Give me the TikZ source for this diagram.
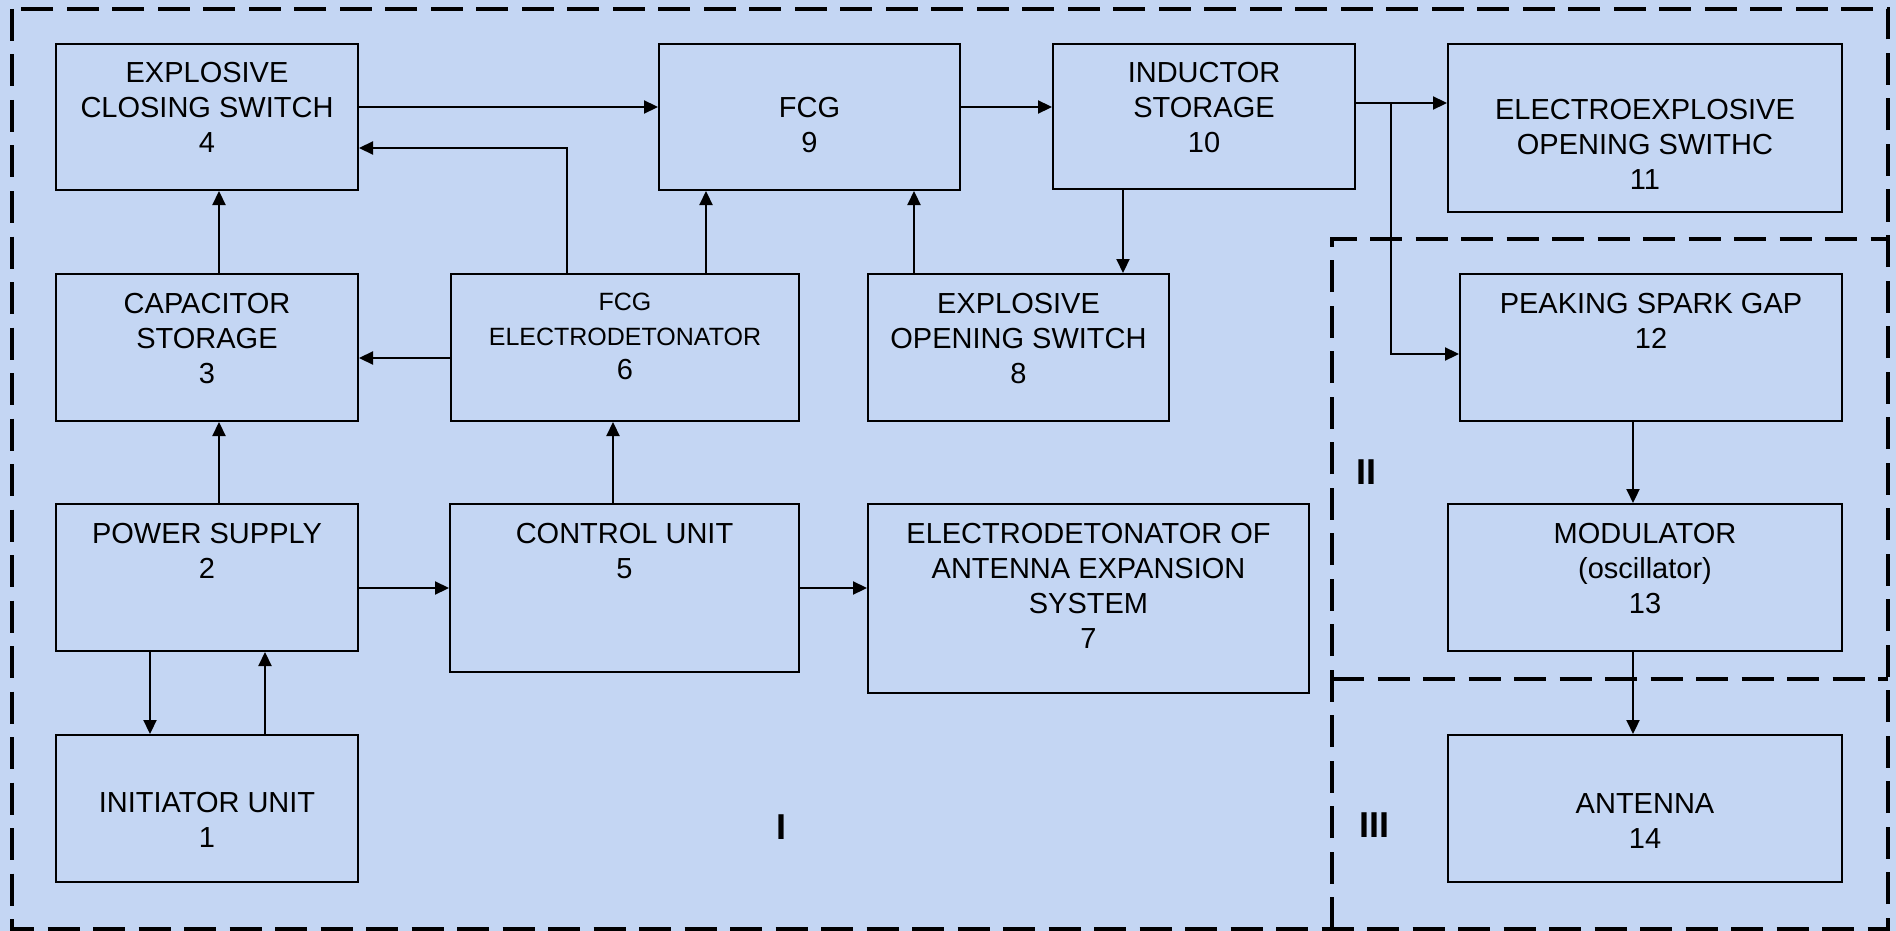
\documentclass[tikz,border=0pt]{standalone}
\usepackage{fontspec}
\setmainfont{Liberation Sans}
\usetikzlibrary{arrows.meta}
\definecolor{bgc}{RGB}{196,214,243}
\newcommand\mkbox[5]{\node[box,minimum width={(#4-#2)*0.5pt},minimum height={(#5-#3)*0.5pt}] (#1) at ({(#2+#4)/2},{(#3+#5)/2}) {};}
\begin{document}
\begin{tikzpicture}[x=0.5pt,y=-0.5pt,
  box/.style={draw=black,line width=1pt,inner sep=0pt,rectangle},
  txt/.style={anchor=north,inner sep=0pt,align=center,font=\fontsize{14.5pt}{17.4pt}\selectfont},
  smalltxt/.style={anchor=north,inner sep=0pt,align=center,font=\fontsize{12.5pt}{17.25pt}\selectfont},
  arr/.style={draw=black,line width=1.1pt,-{Triangle[length=7pt,width=6.5pt]}},
  regionline/.style={draw=black,line width=2pt,dash pattern=on 16pt off 6.75pt},
  roman/.style={inner sep=0pt,font=\fontsize{18pt}{20pt}\selectfont\bfseries}]
\useasboundingbox (0,0) rectangle (1896,931);
\fill[bgc] (0,0) rectangle (1896,931);

% boxes
\mkbox{b4}{56}{44}{358}{190}
\mkbox{b9}{659}{44}{960}{190}
\mkbox{b10}{1053}{44}{1355}{189}
\mkbox{b11}{1448}{44}{1842}{212}
\mkbox{b3}{56}{274}{358}{421}
\mkbox{b6}{451}{274}{799}{421}
\mkbox{b8}{868}{274}{1169}{421}
\mkbox{b12}{1460}{274}{1842}{421}
\mkbox{b2}{56}{504}{358}{651}
\mkbox{b5}{450}{504}{799}{672}
\mkbox{b7}{868}{504}{1309}{693}
\mkbox{b13}{1448}{504}{1842}{651}
\mkbox{b1}{56}{735}{358}{882}
\mkbox{b14}{1448}{735}{1842}{882}

% texts
\node[txt] (t4) at (207,62) {EXPLOSIVE\\CLOSING SWITCH\\4};
\node[txt] (t9) at (809.5,97) {FCG\\9};
\node[txt] (t10) at (1204,62) {INDUCTOR\\STORAGE\\10};
\node[txt] (t11) at (1645,99) {ELECTROEXPLOSIVE\\OPENING SWITHC\\11};
\node[txt] (t3) at (207,293) {CAPACITOR\\STORAGE\\3};
\node[smalltxt] (t6) at (625,293) {FCG\\ELECTRODETONATOR\\{\fontsize{14.5pt}{17.25pt}\selectfont 6}};
\node[txt] (t8) at (1018.5,293) {EXPLOSIVE\\OPENING SWITCH\\8};
\node[txt] (t12) at (1651,293) {PEAKING SPARK GAP\\12};
\node[txt] (t2) at (207,523) {POWER SUPPLY\\2};
\node[txt] (t5) at (624.5,523) {CONTROL UNIT\\5};
\node[txt] (t7) at (1088.5,523) {ELECTRODETONATOR OF\\ANTENNA EXPANSION\\SYSTEM\\7};
\node[txt] (t13) at (1645,523) {MODULATOR\\(oscillator)\\13};
\node[txt] (t1) at (207,792) {INITIATOR UNIT\\1};
\node[txt] (t14) at (1645,793) {ANTENNA\\14};

% region labels
\node[roman] (rI) at (781,827) {I};
\node[roman] (rII) at (1366,472) {II};
\node[roman] (rIII) at (1374,825) {III};

% dashed regions
\draw[regionline] (12,9) rectangle (1888,929);
\draw[regionline] (1332,929) -- (1332,239) -- (1888,239);
\draw[regionline] (1332,679) -- (1888,679);

% connectors
\draw[arr] (b4.east |- 0,107) -- (b9.west |- 0,107);
\draw[arr] (b9.east |- 0,107) -- (b10.west |- 0,107);
\coordinate (jn) at (1391,103);
\draw[arr] (b10.east |- jn) -- (b11.west |- jn);
\draw[arr] (jn) |- (b12.west |- 0,354);
\draw[arr] (b10.south -| 1123,0) -- (b8.north -| 1123,0);
\draw[arr] (b8.north -| 914,0) -- (b9.south -| 914,0);
\draw[arr] (b6.north -| 706,0) -- (b9.south -| 706,0);
\draw[arr] (b6.north -| 567,0) |- (b4.east |- 0,148);
\draw[arr] (b6.west |- 0,358) -- (b3.east |- 0,358);
\draw[arr] (b3.north -| 219,0) -- (b4.south -| 219,0);
\draw[arr] (b2.north -| 219,0) -- (b3.south -| 219,0);
\draw[arr] (b2.south -| 150,0) -- (b1.north -| 150,0);
\draw[arr] (b1.north -| 265,0) -- (b2.south -| 265,0);
\draw[arr] (b2.east |- 0,588) -- (b5.west |- 0,588);
\draw[arr] (b5.north -| 613,0) -- (b6.south -| 613,0);
\draw[arr] (b5.east |- 0,588) -- (b7.west |- 0,588);
\draw[arr] (b12.south -| 1633,0) -- (b13.north -| 1633,0);
\draw[arr] (b13.south -| 1633,0) -- (b14.north -| 1633,0);
\end{tikzpicture}
\end{document}
